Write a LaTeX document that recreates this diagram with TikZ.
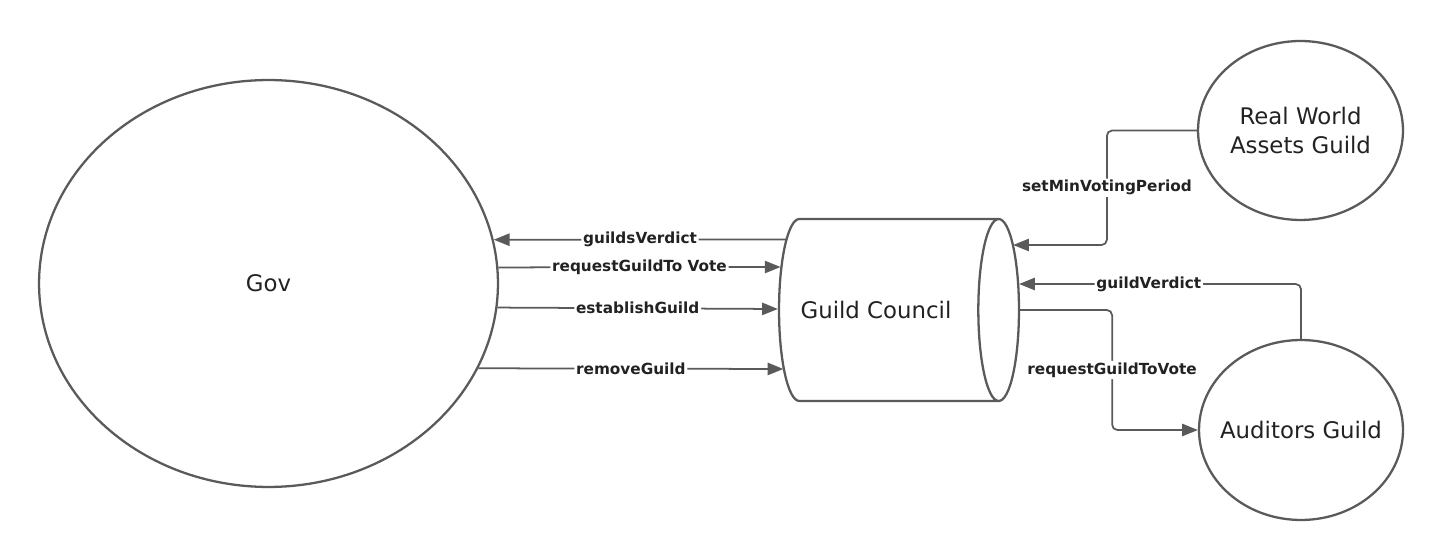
\documentclass[tikz,border=0pt]{standalone}
\usepackage{fontspec}
\setmainfont{DejaVu Sans}
\usetikzlibrary{shapes.geometric,arrows.meta,calc}
\definecolor{linegray}{HTML}{5A5A5A}
\definecolor{textgray}{HTML}{222222}

\begin{document}
\begin{tikzpicture}[x=0.02cm,y=-0.02cm,
    lines/.style={draw=linegray,line width=1.3pt},
    actor/.style={lines,ellipse,inner sep=0pt,align=center,
      text=textgray,font=\fontsize{13}{17}\selectfont},
    flow/.style={draw=linegray,line width=1pt,rounded corners=3pt,
      -{Triangle[length=9pt,width=7pt]}},
    lbl/.style={fill=white,inner sep=1pt,text=textgray,
      font=\bfseries\fontsize{8.7}{10}\selectfont}]
  \useasboundingbox (0,0) rectangle (1443,560);
  \node[actor,minimum width=9.18cm,minimum height=8.14cm] (gov) at (268.5,283.5) {Gov};
  \node[lines,cylinder,aspect=2.3,anchor=shape center,minimum width=3.64cm,
    minimum height=4.8cm,inner sep=0pt,text=textgray,font=\fontsize{13}{17}\selectfont]
    (council) at (899,310) {\hspace*{-14pt}Guild Council};
  \node[actor,minimum width=4.1cm,minimum height=3.58cm] (rwa) at (1300.5,130.5) {Real World\\Assets Guild};
  \node[actor,inner xsep=-6pt,minimum width=4.08cm,minimum height=3.6cm] (auditors) at (1301,430) {Auditors Guild};
  % gov <-> council
  \draw[flow] ($(council.west)+(8.5,-70.5)$) -- node[lbl]{guildsVerdict} (gov.11.1);
  \draw[flow] (gov.4.1) -- node[lbl]{requestGuildTo Vote} ($(council.west)+(2.7,-43)$);
  \draw[flow] (gov.-6.4) -- node[lbl]{establishGuild} ($(council.west)+(0,-1)$);
  \draw[flow] (gov.-22.3) -- node[lbl]{removeGuild} ($(council.west)+(5.5,59)$);
  % guilds <-> council
  \draw[flow] (rwa.west) -- ++(-90,0) |- node[lbl,pos=0.25]{setMinVotingPeriod} ($(council.east)+(-7,-65)$);
  \draw[flow] (auditors.north) |- node[lbl,pos=0.77]{guildVerdict} ($(council.east)+(-1,-26)$);
  \draw[flow] (council.east) -- ++(92,0) |- node[lbl,pos=0.25]{requestGuildToVote} (auditors.west);
\end{tikzpicture}
\end{document}
